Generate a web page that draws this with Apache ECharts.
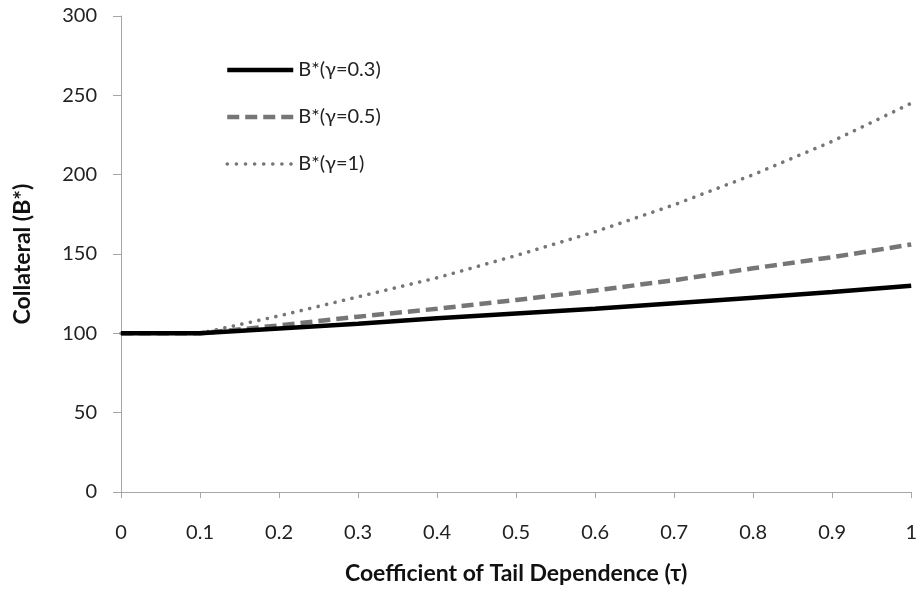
<!DOCTYPE html>
<html>
<head>
<meta charset="utf-8">
<script src="https://cdn.jsdelivr.net/npm/echarts@6/dist/echarts.min.js"></script>
<style>html,body{margin:0;padding:0;background:#fff}#c{width:920px;height:595px}</style>
</head>
<body>
<div id="c"></div>
<script>
const tau = [0, 0.1, 0.2, 0.3, 0.4, 0.5, 0.6, 0.7, 0.8, 0.9, 1];
const bGamma03 = [100, 100, 103, 106, 109.5, 112.5, 115.5, 119, 122.5, 126, 130];
const bGamma05 = [100, 100, 105, 110.5, 115.5, 121, 127, 133.5, 141, 148, 156];
const bGamma1  = [100, 100, 111, 123, 135, 149, 164, 181, 200, 221, 245];
const seriesNames = ['B*(γ=0.3)', 'B*(γ=0.5)', 'B*(γ=1)'];

const font = 'Lato, "Open Sans", sans-serif';
const pairs = arr => tau.map((t, i) => [t, arr[i]]);

const styles = [
  { color: '#000000', width: 4.5, type: 'solid', cap: 'butt' },
  { color: '#767676', width: 4.5, type: [12, 6], cap: 'butt' },
  { color: '#767676', width: 3.6, type: [0.1, 8.6], cap: 'round' }
];
const legendDash = [
  { color: '#000000', width: 4.5, type: 'solid', cap: 'butt' },
  { color: '#767676', width: 4.5, type: [12, 6], cap: 'butt' },
  { color: '#767676', width: 3.6, type: [0.1, 9], cap: 'round' }
];

const chart = echarts.init(document.getElementById('c'));
chart.setOption({
  animation: false,
  backgroundColor: '#fff',
  textStyle: { fontFamily: font },
  grid: { left: 121, right: 6, top: 16, bottom: 103 },
  legend: {
    left: 225, top: 60, orient: 'vertical', padding: 0,
    itemWidth: 66, itemHeight: 14, itemGap: 27,
    itemStyle: { opacity: 0 },
    textStyle: { fontFamily: font, fontSize: 20, color: '#222' },
    data: seriesNames.map((n, i) => ({ name: n, lineStyle: legendDash[i] }))
  },
  xAxis: {
    type: 'value', min: 0, max: 1, interval: 0.1,
    name: 'Coefficient of Tail Dependence (τ)', nameLocation: 'middle', nameGap: 70,
    nameTextStyle: { fontFamily: font, fontSize: 23, fontWeight: 'bold', color: '#111' },
    axisLine: { show: true, lineStyle: { color: '#a6a6a6', width: 1 } },
    axisTick: { show: true, length: 6, lineStyle: { color: '#a6a6a6' } },
    axisLabel: { fontFamily: font, fontSize: 20, color: '#222', margin: 31,
      formatter: v => String(Math.round(v * 10) / 10) },
    splitLine: { show: false }
  },
  yAxis: {
    type: 'value', min: 0, max: 300, interval: 50,
    name: 'Collateral (B*)', nameLocation: 'middle', nameGap: 87, nameRotate: 90,
    nameTextStyle: { fontFamily: font, fontSize: 23, fontWeight: 'bold', color: '#111' },
    axisLine: { show: true, lineStyle: { color: '#a6a6a6', width: 1 } },
    axisTick: { show: true, length: 8, lineStyle: { color: '#a6a6a6' } },
    axisLabel: { fontFamily: font, fontSize: 20, color: '#222', margin: 24 },
    splitLine: { show: false }
  },
  series: [
    { name: seriesNames[0], type: 'line', data: pairs(bGamma03), symbol: 'none',
      lineStyle: styles[0], itemStyle: { color: styles[0].color }, z: 3 },
    { name: seriesNames[1], type: 'line', data: pairs(bGamma05), symbol: 'none',
      lineStyle: styles[1], itemStyle: { color: styles[1].color }, z: 2 },
    { name: seriesNames[2], type: 'line', data: pairs(bGamma1), symbol: 'none',
      lineStyle: styles[2], itemStyle: { color: styles[2].color }, z: 1 }
  ]
});
</script>
</body>
</html>
